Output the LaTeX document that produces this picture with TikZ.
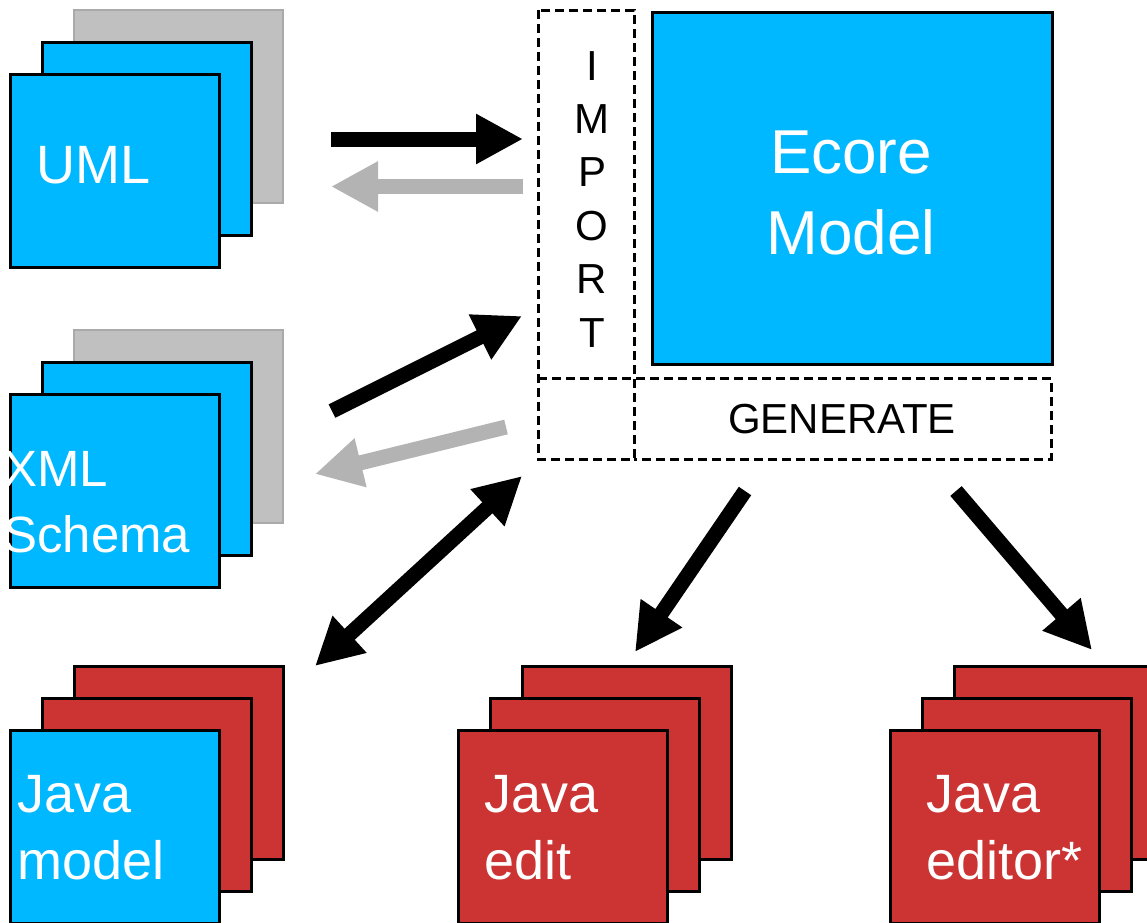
\documentclass[tikz,border=0pt]{standalone}
\usepackage{fontspec}
\setmainfont{Liberation Sans}
\usetikzlibrary{arrows.meta}
\definecolor{eblue}{RGB}{0,184,255}
\definecolor{ered}{RGB}{204,51,51}
\definecolor{egray}{RGB}{192,192,192}
\definecolor{egrayline}{RGB}{170,170,170}
\definecolor{earrowgray}{RGB}{179,179,179}
\begin{document}
\begin{tikzpicture}[x=1pt,y=-1pt,
  card/.style={rectangle, minimum width=209pt, minimum height=193pt, inner sep=0pt, outer sep=0pt, anchor=north west},
  bluecard/.style={card, draw=black, line width=3pt, fill=eblue},
  redcard/.style={card, draw=black, line width=3pt, fill=ered},
  graycard/.style={card, draw=egrayline, line width=1.5pt, fill=egray},
  cardtext/.style={text=white, font=\fontsize{54}{67}\selectfont, align=left, inner sep=0pt, anchor=base west},
  dashedline/.style={draw=black, line width=3pt, dash pattern=on 9pt off 5pt},
  bigarrow/.style={line width=15pt, -{Triangle[length=47pt,width=47pt]}},
  dblarrow/.style={line width=15pt, {Triangle[length=47pt,width=47pt]}-{Triangle[length=47pt,width=47pt]}},
]
\clip (0,0) rectangle (1147,922);
\fill[white] (0,0) rectangle (1147,922);

% UML stack
\node[graycard] (umlc) at (74,10) {};
\node[bluecard] (umlb) at (42,42) {};
\node[bluecard] (umla) at (10,74) {};
\node[cardtext] (umlt) at (36,183) {UML};

% XML Schema stack
\node[graycard] (xmlc) at (74,330) {};
\node[bluecard] (xmlb) at (42,362) {};
\node[bluecard] (xmla) at (10,394) {};
\node[cardtext, font=\fontsize{51}{66}\selectfont] (xmlt) at (3,552) {XML\\Schema};

% Java model stack
\node[redcard] (jmc) at (74,666) {};
\node[redcard] (jmb) at (42,698) {};
\node[bluecard] (jma) at (10,730) {};
\node[cardtext] (jmt) at (17,879) {Java\\model};

% Java edit stack
\node[redcard] (jec) at (522,666) {};
\node[redcard] (jeb) at (490,698) {};
\node[redcard] (jea) at (458,730) {};
\node[cardtext] (jet) at (484,879) {Java\\edit};

% Java editor stack
\node[redcard] (jrc) at (954,666) {};
\node[redcard] (jrb) at (922,698) {};
\node[redcard] (jra) at (890,730) {};
\node[cardtext] (jrt) at (926,879) {Java\\editor*};

% Import / Generate frames
\draw[dashedline] (538,10) rectangle (634,459);
\draw[dashedline] (538,378) -- (1051,378) -- (1051,459) -- (634,459);
\node[font=\fontsize{42}{53.4}\selectfont, align=center, inner sep=0pt, anchor=base] (import) at (592,347) {I\\M\\P\\O\\R\\T};
\node[font=\fontsize{42}{50}\selectfont, inner sep=0pt, anchor=base] (generate) at (842,433) {GENERATE};

% Ecore model
\node[rectangle, draw=black, line width=3pt, fill=eblue, minimum width=400pt, minimum height=352pt, inner sep=0pt, anchor=north west] (ecore) at (651,11) {};
\node[text=white, font=\fontsize{62}{81}\selectfont, align=center, inner sep=0pt, anchor=base] (ecoret) at (851,254) {Ecore\\Model};

% arrow end points
\coordinate (a1s) at (331,139);
\coordinate (a1e) at (523,139);
\coordinate (a2s) at (523,186.5);
\coordinate (a2e) at (331,186.5);
\coordinate (a3s) at (332,411);
\coordinate (a3e) at (522,316);
\coordinate (a4s) at (506,427);
\coordinate (a4e) at (315,474);
\coordinate (a5s) at (315,666);
\coordinate (a5e) at (522,476);
\coordinate (a6s) at (745,491);
\coordinate (a6e) at (635,652);
\coordinate (a7s) at (956,491);
\coordinate (a7e) at (1092,650);

\draw[bigarrow, black] (a1s) -- (a1e);
\draw[bigarrow, earrowgray] (a2s) -- (a2e);
\draw[bigarrow, black] (a3s) -- (a3e);
\draw[bigarrow, earrowgray] (a4s) -- (a4e);
\draw[dblarrow, black] (a5s) -- (a5e);
\draw[bigarrow, black] (a6s) -- (a6e);
\draw[bigarrow, black] (a7s) -- (a7e);
\end{tikzpicture}
\end{document}
